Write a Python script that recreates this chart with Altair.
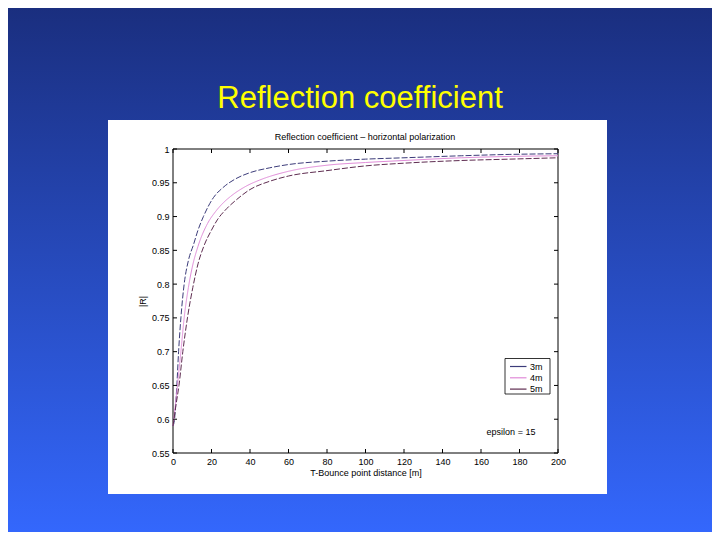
import altair as alt
import pandas as pd

# ---- data ----
series_names = ["3m", "4m", "5m"]
series_colors = ["#3c3c7a", "#e08ad8", "#5e2c50"]

t3 = [0, 0.8, 2.0, 2.9, 4.1, 5.8, 8, 10.6, 13, 15.8, 21, 26, 32, 40, 50, 60, 80, 100, 120, 150, 175, 200]
r3 = [0.59, 0.60, 0.65, 0.70, 0.75, 0.80, 0.835, 0.858, 0.88, 0.90, 0.928, 0.943, 0.955, 0.965, 0.972,
      0.977, 0.982, 0.985, 0.987, 0.990, 0.992, 0.993]

t4 = [0, 1, 2.3, 4.1, 5.8, 8, 10, 13, 18, 22, 26, 30, 38, 45, 60, 80, 100, 120, 150, 175, 200]
r4 = [0.59, 0.615, 0.65, 0.70, 0.75, 0.795, 0.825, 0.856, 0.89, 0.907, 0.92, 0.93, 0.945, 0.954,
      0.967, 0.976, 0.980, 0.983, 0.987, 0.989, 0.990]

t5 = [0, 1.5, 3.1, 5.1, 7.5, 10.3, 13, 16, 20, 23, 28, 33, 40, 50, 60, 80, 100, 120, 150, 175, 200]
r5 = [0.59, 0.62, 0.65, 0.70, 0.75, 0.795, 0.83, 0.856, 0.88, 0.895, 0.912, 0.925, 0.94, 0.952,
      0.96, 0.968, 0.975, 0.979, 0.983, 0.985, 0.987]

x_ticks = [0, 20, 40, 60, 80, 100, 120, 140, 160, 180, 200]
y_ticks = [0.55, 0.6, 0.65, 0.7, 0.75, 0.8, 0.85, 0.9, 0.95, 1.0]

slide_title = "Reflection coefficient"
plot_title = "Reflection coefficient \u2013 horizontal polarization"
x_title = "T-Bounce point distance [m]"
y_title = "|R|"
note = "epsilon = 15"

rows = []
for name, ts, rs in zip(series_names, [t3, t4, t5], [r3, r4, r5]):
    for i, (t, r) in enumerate(zip(ts, rs)):
        rows.append({"T": t, "R": r, "h": name, "i": i})
df = pd.DataFrame(rows)

FONT = "Liberation Sans"
W, H = 385, 304

xs = alt.Scale(domain=[0, 200], nice=False, zero=False)
ys = alt.Scale(domain=[0.55, 1.0], nice=False, zero=False)

one = pd.DataFrame({"k": [0]})

bg = alt.Chart(one).mark_rect(
    color=alt.LinearGradient(
        gradient="linear",
        stops=[alt.GradientStop(color="#1a2e7e", offset=0),
               alt.GradientStop(color="#3468fe", offset=1)],
        x1=0, x2=0, y1=0, y2=1),
).encode(x=alt.value(-170), x2=alt.value(545), y=alt.value(-145), y2=alt.value(390))

box = alt.Chart(one).mark_rect(color="white").encode(
    x=alt.value(-65), x2=alt.value(434), y=alt.value(-29), y2=alt.value(345))

frame = alt.Chart(one).mark_rect(fillOpacity=0, stroke="black", strokeWidth=1).encode(
    x=alt.value(0), x2=alt.value(W), y=alt.value(0), y2=alt.value(H))

title_txt = alt.Chart(one).mark_text(
    text=slide_title, font=FONT, fontSize=31, color="#ffff00", align="center", baseline="alphabetic"
).encode(x=alt.value(187), y=alt.value(-41))

ptitle = alt.Chart(one).mark_text(
    text=plot_title, font=FONT, fontSize=9, color="black", align="center", baseline="middle"
).encode(x=alt.value(192), y=alt.value(-12))

eps = alt.Chart(one).mark_text(
    text=note, font=FONT, fontSize=9, color="black", align="center", baseline="middle"
).encode(x=alt.value(338), y=alt.value(283))

x_axis = alt.Axis(values=x_ticks, title=x_title, tickSize=0, labelPadding=4, domain=False,
                  grid=False, labelFont=FONT, labelFontSize=9, labelColor="black",
                  titleFont=FONT, titleFontSize=9, titleFontWeight="normal",
                  titleColor="black", titlePadding=2, labelFlush=False, zindex=2)
y_axis = alt.Axis(values=y_ticks, format=".2~f", title=y_title, tickSize=0, labelPadding=4,
                  domain=False, grid=False, labelFont=FONT, labelFontSize=9,
                  labelColor="black", titleFont=FONT, titleFontSize=9,
                  titleFontWeight="normal", titleColor="black", titlePadding=4,
                  labelFlush=False, zindex=2)

lines = alt.Chart(df).mark_line(strokeWidth=1, interpolate="monotone").encode(
    x=alt.X("T:Q", scale=xs, axis=x_axis),
    y=alt.Y("R:Q", scale=ys, axis=y_axis),
    color=alt.Color("h:N", scale=alt.Scale(domain=series_names, range=series_colors), legend=None),
    strokeDash=alt.StrokeDash("h:N", scale=alt.Scale(domain=series_names,
                                                     range=[[6, 2], [1, 0], [6, 2]]),
                              legend=None),
    order="i:Q",
)

xt = pd.DataFrame({"T": x_ticks})
yt = pd.DataFrame({"R": y_ticks})

xtick_b = alt.Chart(xt).mark_rule(color="black", strokeWidth=1).encode(
    x=alt.X("T:Q", scale=xs, axis=x_axis), y=alt.value(H), y2=alt.value(H - 4))
xtick_t = alt.Chart(xt).mark_rule(color="black", strokeWidth=1).encode(
    x=alt.X("T:Q", scale=xs, axis=x_axis), y=alt.value(0), y2=alt.value(4))
ytick_l = alt.Chart(yt).mark_rule(color="black", strokeWidth=1).encode(
    y=alt.Y("R:Q", scale=ys, axis=y_axis), x=alt.value(0), x2=alt.value(4))
ytick_r = alt.Chart(yt).mark_rule(color="black", strokeWidth=1).encode(
    y=alt.Y("R:Q", scale=ys, axis=y_axis), x=alt.value(W - 4), x2=alt.value(W))

# legend box (drawn in the plot-area pixel frame, like MATLAB's legend)
leg_layers = [alt.Chart(one).mark_rect(fill="white", stroke="black", strokeWidth=0.8).encode(
    x=alt.value(332), x2=alt.value(377), y=alt.value(209.5), y2=alt.value(245))]
for k, (name, col) in enumerate(zip(series_names, series_colors)):
    yy = 217.5 + 11.3 * k
    leg_layers.append(alt.Chart(one).mark_rule(color=col, strokeWidth=1.2).encode(
        x=alt.value(337), x2=alt.value(353.5), y=alt.value(yy)))
    leg_layers.append(alt.Chart(one).mark_text(
        text=name, font=FONT, fontSize=9, color="black", align="left", baseline="middle"
    ).encode(x=alt.value(357), y=alt.value(yy)))

chart = alt.layer(
    bg, box, title_txt, ptitle, frame, lines, xtick_b, xtick_t, ytick_l, ytick_r, eps, *leg_layers
).properties(
    width=W, height=H,
    padding={"left": 165, "top": 141, "right": 154, "bottom": 79},
    autosize=alt.AutoSizeParams(type="none"),
).configure_view(
    stroke=None
)

chart.save("out.html", embed_options={"renderer": "svg", "actions": False})
